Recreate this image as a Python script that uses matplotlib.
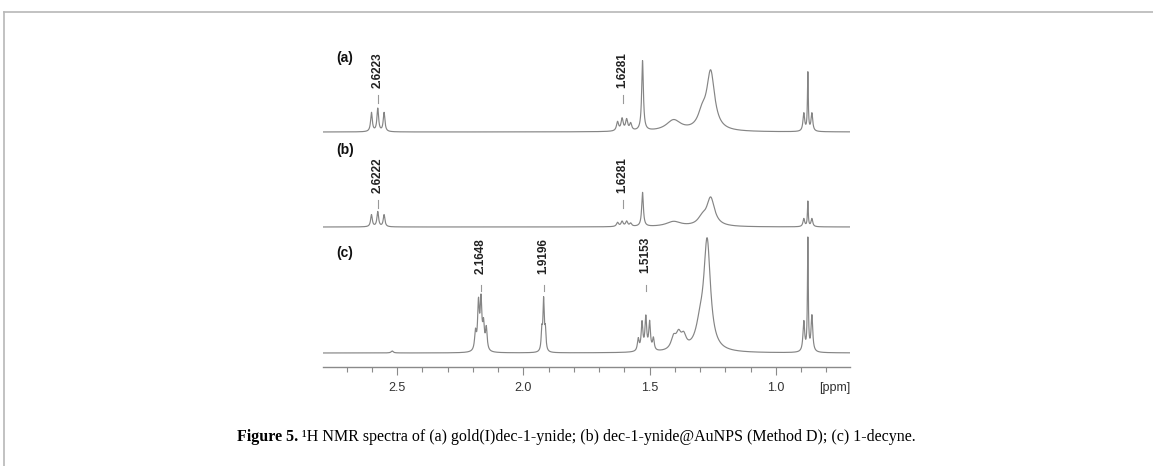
#!/usr/bin/env python3
# -*- coding: utf-8 -*-
"""
plot.py

1H NMR spectra, three stacked traces with peak labels
"""
import numpy as np
import matplotlib
matplotlib.use('Agg')
import matplotlib.pyplot as plt
from matplotlib.lines import Line2D

FIG_W, FIG_H, DPI = 1153, 466, 100

# peaks: position (ppm), height (px above baseline), half width (ppm)
PPM_A = [2.602, 2.577, 2.552, 1.627, 1.609, 1.591, 1.575, 1.528, 1.405, 1.292, 1.258, 0.889, 0.873, 0.857]
HGT_A = [19, 23, 19, 9, 12, 11, 7, 70, 11, 14, 58, 18, 58, 18]
WID_A = [0.004, 0.004, 0.004, 0.005, 0.005, 0.005, 0.005, 0.004, 0.035, 0.02, 0.019, 0.004, 0.002, 0.004]

PPM_B = [2.602, 2.577, 2.552, 1.627, 1.609, 1.591, 1.575, 1.528, 1.405, 1.292, 1.258, 0.889, 0.873, 0.857]
HGT_B = [12, 15, 12, 4, 5, 5, 3, 34, 5, 7, 28, 8, 25, 8]
WID_B = [0.004, 0.004, 0.004, 0.005, 0.005, 0.005, 0.005, 0.004, 0.035, 0.02, 0.019, 0.004, 0.002, 0.004]

PPM_C = [2.520, 2.190, 2.178, 2.168, 2.158, 2.147, 1.927, 1.920, 1.913,
         1.545, 1.530, 1.515, 1.500, 1.485, 1.405, 1.385, 1.365, 1.300, 1.272,
         0.889, 0.873, 0.857]
HGT_C = [2, 18, 46, 48, 24, 22, 20, 50, 20,
         12, 28, 33, 28, 12, 12, 14, 12, 20, 108,
         30, 112, 36]
WID_C = [0.005, 0.004, 0.004, 0.004, 0.004, 0.004, 0.003, 0.003, 0.003,
         0.004, 0.004, 0.004, 0.004, 0.004, 0.012, 0.012, 0.012, 0.02, 0.016,
         0.004, 0.002, 0.004]

# trace baselines, px from the bottom of the axis
BASE = [235, 140, 14]
TRACE_NAMES = ['(a)', '(b)', '(c)']
NAME_Y = [58, 150, 253]

# peak labels
LABEL_PPM = [2.577, 1.607, 2.577, 1.607, 2.168, 1.920, 1.516]
LABEL_TXT = ['2.6223', '1.6281', '2.6222', '1.6281', '2.1648', '1.9196', '1.5153']
LABEL_TOP = [52, 52, 157, 157, 238, 238, 237]
DASH_TOP = [95, 95, 200, 200, 285, 285, 285]
DASH_BOT = [103, 103, 208, 208, 291, 291, 291]

XMIN, XMAX = 2.794, 0.706
MAJOR = [2.5, 2.0, 1.5, 1.0]
MINOR = [2.7, 2.6, 2.4, 2.3, 2.2, 2.1, 1.9, 1.8, 1.7, 1.6, 1.4, 1.3, 1.2, 1.1, 0.9, 0.8]

AX_LEFT, AX_RIGHT, AX_TOP, AX_BOT = 323, 850, 40, 367
LINE_COLOR = '#858585'


def trace(ppm, positions, heights, widths):
    '''
    Sum of lorentzian lines
    '''
    y = np.zeros_like(ppm)
    for pos, hgt, wid in zip(positions, heights, widths):
        y += hgt / (1 + ((ppm - pos) / wid) ** 2)
    return y


def pix(y_px):
    ''' image pixel row -> axis data y '''
    return AX_BOT - y_px


fig = plt.figure(figsize=(FIG_W / DPI, FIG_H / DPI), dpi=DPI)
axis = fig.add_axes([AX_LEFT / FIG_W, 1 - AX_BOT / FIG_H,
                     (AX_RIGHT - AX_LEFT) / FIG_W, (AX_BOT - AX_TOP) / FIG_H])
axis.set_xlim(XMIN, XMAX)
axis.set_ylim(0, AX_BOT - AX_TOP)

x = np.linspace(XMIN, XMAX, 8000)
for base, (pp, hh, ww) in zip(BASE, [(PPM_A, HGT_A, WID_A),
                                     (PPM_B, HGT_B, WID_B),
                                     (PPM_C, HGT_C, WID_C)]):
    axis.plot(x, base + trace(x, pp, hh, ww), color=LINE_COLOR, linewidth=0.85)

for name, ny in zip(TRACE_NAMES, NAME_Y):
    axis.text(2.743, pix(ny), name, ha='left', va='center',
              fontsize=10, fontweight='bold', family='Liberation Sans', color='#111111')

for pos, txt, top, d0, d1 in zip(LABEL_PPM, LABEL_TXT, LABEL_TOP, DASH_TOP, DASH_BOT):
    axis.text(pos, pix(top), txt, rotation=90, ha='center', va='top',
              fontsize=8.5, fontweight='bold', family='Liberation Sans', color='#222222')
    axis.plot([pos, pos], [pix(d0), pix(d1)], color='#999999', linewidth=0.8)

for side in ['left', 'right', 'top']:
    axis.spines[side].set_visible(False)
axis.spines['bottom'].set_color('#8a8a8a')
axis.spines['bottom'].set_linewidth(1)
axis.set_yticks([])
axis.set_xticks(MAJOR)
axis.set_xticklabels([f'{v:.1f}' for v in MAJOR], family='Liberation Sans',
                     fontsize=9, color='#333333')
axis.set_xticks(MINOR, minor=True)
axis.tick_params(axis='x', which='major', length=5.8, width=0.8, color='#8a8a8a', pad=5)
axis.tick_params(axis='x', which='minor', length=3.6, width=0.8, color='#8a8a8a')
axis.text(1.0, -21 / (AX_BOT - AX_TOP), '[ppm]', transform=axis.transAxes,
          ha='right', va='center', family='Liberation Sans', fontsize=9, color='#333333')

# page frame
frame_y = 1 - 12 / FIG_H
fig.add_artist(Line2D([4 / FIG_W, 1], [frame_y, frame_y], color='#b8b8b8', linewidth=1.2))
fig.add_artist(Line2D([4 / FIG_W, 4 / FIG_W], [0, frame_y], color='#b8b8b8', linewidth=1.2))

# caption, bold lead-in followed by regular text
cap_y = 1 - 437 / FIG_H
renderer = fig.canvas.get_renderer()
head = fig.text(0, cap_y, 'Figure 5.', family='Liberation Serif', fontweight='bold',
                fontsize=11.5, va='center', ha='left')
tail = fig.text(0, cap_y, ' ¹H NMR spectra of (a) gold(I)dec-1-ynide; (b) dec-1-ynide@AuNPS '
                '(Method D); (c) 1-decyne.', family='Liberation Serif', fontsize=11.5,
                va='center', ha='left')
w_head = head.get_window_extent(renderer).width
w_tail = tail.get_window_extent(renderer).width
start = (FIG_W - w_head - w_tail) / 2
head.set_x(start / FIG_W)
tail.set_x((start + w_head) / FIG_W)

fig.savefig('out.png', dpi=DPI)
